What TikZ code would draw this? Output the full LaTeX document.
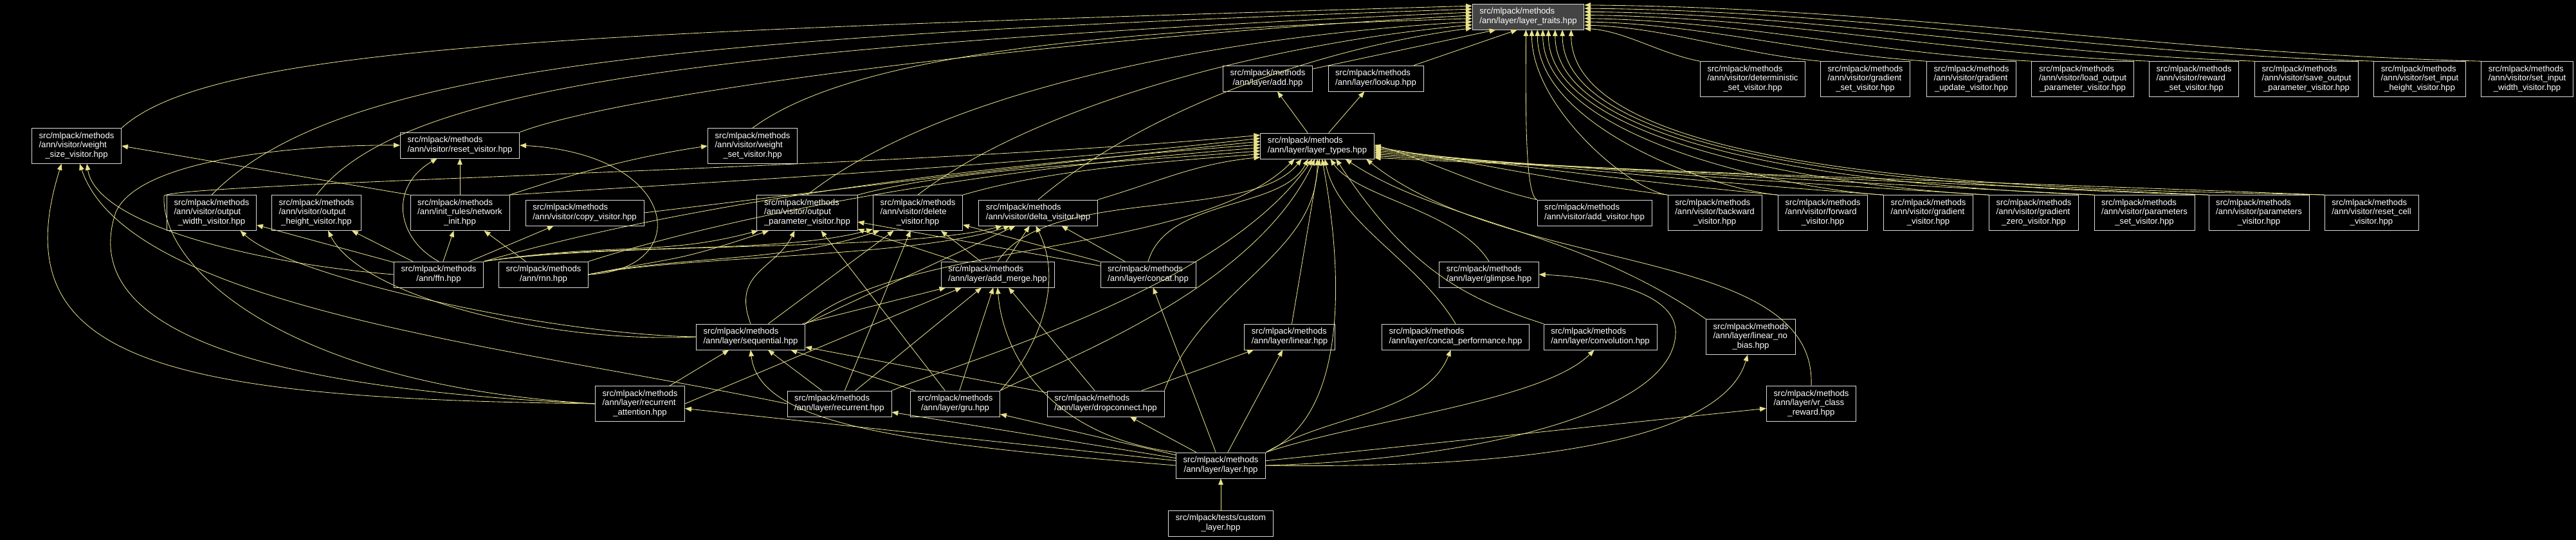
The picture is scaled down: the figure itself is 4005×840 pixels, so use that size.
\documentclass[tikz,border=0pt]{standalone}
\usepackage{fontspec}
\setmainfont{Liberation Sans}
\usetikzlibrary{arrows.meta}
\definecolor{ckhaki}{HTML}{E8E28A}
\definecolor{cgrey}{HTML}{444444}
\definecolor{cframe}{HTML}{DADADA}
\newcommand{\mth}{src/mlpack/methods}
\newcommand{\twol}[2]{\begin{tabular}{@{}l@{}}#1\\\multicolumn{1}{@{}c@{}}{#2}\end{tabular}}
\newcommand{\threel}[3]{\begin{tabular}{@{}l@{}}#1\\#2\\\multicolumn{1}{@{}c@{}}{#3}\end{tabular}}
\tikzset{
  every picture/.style={font=\fontsize{9.35}{10.6}\selectfont, line width=0.6pt},
  box/.style={draw=cframe, fill=black, text=white, inner xsep=8pt, inner ysep=3.6pt},
  boxg/.style={box, fill=cgrey},
  arrow/.style={-{Triangle[length=7pt, width=5.5pt]}, draw=ckhaki},
}
\begin{document}
\begin{tikzpicture}[x=0.25mm, y=0.25mm]
  \path[use as bounding box, fill=black] (0,0) rectangle (4005,-840);
  % the headers
  \node[boxg] (traits) at (2376,-26) {\twol{\mth}{/ann/layer/layer\_traits.hpp}};
  \node[box] (addh) at (1971,-122) {\twol{\mth}{/ann/layer/add.hpp}};
  \node[box] (lookup) at (2139,-122) {\twol{\mth}{/ann/layer/lookup.hpp}};
  \node[box] (types) at (2048,-227) {\twol{\mth}{/ann/layer/layer\_types.hpp}};
  \node[box] (wsize) at (119,-227) {\threel{\mth}{/ann/visitor/weight}{\_size\_visitor.hpp}};
  \node[box] (resetv) at (715,-226) {\twol{\mth}{/ann/visitor/reset\_visitor.hpp}};
  \node[box] (wset) at (1170,-227) {\threel{\mth}{/ann/visitor/weight}{\_set\_visitor.hpp}};
  \node[box] (owidth) at (329,-331) {\threel{\mth}{/ann/visitor/output}{\_width\_visitor.hpp}};
  \node[box] (oheight) at (492,-331) {\threel{\mth}{/ann/visitor/output}{\_height\_visitor.hpp}};
  \node[box] (netinit) at (715,-331) {\threel{\mth}{/ann/init\_rules/network}{\_init.hpp}};
  \node[box] (copyv) at (909,-331) {\twol{\mth}{/ann/visitor/copy\_visitor.hpp}};
  \node[box] (oparam) at (1255,-331) {\threel{\mth}{/ann/visitor/output}{\_parameter\_visitor.hpp}};
  \node[box] (deletev) at (1427,-331) {\threel{\mth}{/ann/visitor/delete}{\_visitor.hpp}};
  \node[box] (deltav) at (1614,-331) {\twol{\mth}{/ann/visitor/delta\_visitor.hpp}};
  \node[box] (addv) at (2479,-331) {\twol{\mth}{/ann/visitor/add\_visitor.hpp}};
  \node[box] (ffn) at (682,-427) {\twol{\mth}{/ann/ffn.hpp}};
  \node[box] (rnn) at (845,-427) {\twol{\mth}{/ann/rnn.hpp}};
  \node[box] (addmerge) at (1551,-427) {\twol{\mth}{/ann/layer/add\_merge.hpp}};
  \node[box] (concat) at (1785,-427) {\twol{\mth}{/ann/layer/concat.hpp}};
  \node[box] (glimpse) at (2315,-427) {\twol{\mth}{/ann/layer/glimpse.hpp}};
  \node[box] (seq) at (1167,-524) {\twol{\mth}{/ann/layer/sequential.hpp}};
  \node[box] (linear) at (2005,-524) {\twol{\mth}{/ann/layer/linear.hpp}};
  \node[box] (concatp) at (2263,-524) {\twol{\mth}{/ann/layer/concat\_performance.hpp}};
  \node[box] (conv) at (2488,-524) {\twol{\mth}{/ann/layer/convolution.hpp}};
  \node[box] (linnb) at (2722,-524) {\threel{\mth}{/ann/layer/linear\_no}{\_bias.hpp}};
  \node[box] (recatt) at (995,-628) {\threel{\mth}{/ann/layer/recurrent}{\_attention.hpp}};
  \node[box] (recur) at (1305,-628) {\twol{\mth}{/ann/layer/recurrent.hpp}};
  \node[box] (gru) at (1485,-628) {\twol{\mth}{/ann/layer/gru.hpp}};
  \node[box] (dropc) at (1719,-628) {\twol{\mth}{/ann/layer/dropconnect.hpp}};
  \node[box] (vrcr) at (2816,-628) {\threel{\mth}{/ann/layer/vr\_class}{\_reward.hpp}};
  \node[box] (layer) at (1898,-724) {\twol{\mth}{/ann/layer/layer.hpp}};
  \node[box] (custom) at (1898,-814) {\twol{src/mlpack/tests/custom}{\_layer.hpp}};
  \foreach \x/\n/\vname/\vtail in {2725/det/deterministic/set, 2900/gset/gradient/set, 3065/gupd/gradient/update,
      3238/lout/load\_output/parameter, 3411/rset/reward/set, 3586/sout/save\_output/parameter,
      3762/sih/set\_input/height, 3929/siw/set\_input/width}
    \node[box] (\n) at (\x,-123) {\threel{\mth}{/ann/visitor/\vname}{\_\vtail\_visitor.hpp}};
  \foreach \x/\n/\vname/\vtail in {2666/bwd/backward/{}, 2834/fwd/forward/{}, 2998/grad/gradient/{},
      3162/gzero/gradient/zero\_, 3334/pset/parameters/set\_, 3512/par/parameters/{}, 3687/rcell/reset\_cell/{}}
    \node[box] (\n) at (\x,-331) {\threel{\mth}{/ann/visitor/\vname}{\_\vtail visitor.hpp}};

  % into layer_traits
  \draw[arrow] (wsize.north east) .. controls (330,-70) and (900,-50) .. ([yshift=12pt]traits.west);
  \draw[arrow] (owidth.north) .. controls (520,-110) and (1000,-58) .. ([yshift=8.5pt]traits.west);
  \draw[arrow] (oheight.north) .. controls (620,-140) and (1050,-75) .. ([yshift=5pt]traits.west);
  \draw[arrow] (resetv.north east) .. controls (980,-140) and (1700,-55) .. ([yshift=1.5pt]traits.west);
  \draw[arrow] (wset.north) .. controls (1330,-80) and (1750,-45) .. ([yshift=-2pt]traits.west);
  \draw[arrow] (oparam.north) .. controls (1450,-150) and (1850,-60) .. ([yshift=-5.5pt]traits.west);
  \draw[arrow] (deletev.north) .. controls (1600,-170) and (1950,-70) .. ([yshift=-9pt]traits.west);
  \draw[arrow] (deltav.north) .. controls (1780,-170) and (2050,-75) .. ([yshift=-12.5pt]traits.west);
  \draw[arrow] (addh) -- (traits.-158);
  \draw[arrow] (lookup) -- (traits.-130);
  \foreach \n/\s/\c in {det/-13/63, gset/-9.3/130, gupd/-5.6/185, lout/-1.9/245, rset/1.8/310, sout/5.5/365, sih/9.2/430, siw/12.9/490}
    \draw[arrow] (\n.north west) .. controls +(-\c,12) and +(\c,-4) .. ([yshift=\s pt]traits.east);
  \foreach \n/\a/\c/\d in {addv/-100/20/100, bwd/-75/60/120, fwd/-55/100/150, grad/-42/140/170,
      gzero/-33/180/190, pset/-26/220/210, par/-21/260/230, rcell/-17/300/250}
    \draw[arrow] (\n.north west) .. controls +(-\c,8) and +(0,-\d) .. (traits.\a);

  % into layer_types
  \draw[arrow] (types) -- (addh);
  \draw[arrow] (types) -- (lookup);
  \foreach \n/\s/\c in {addv/1/90, bwd/-1/160, fwd/-3/220, grad/-5/280, gzero/-7/335, pset/-9/390, par/-11/450, rcell/-13/520}
    \draw[arrow] (\n.north west) .. controls +(-\c,20) and +(\c,-25) .. ([yshift=\s pt]types.east);
  \draw[arrow] (recatt.west) .. controls (450,-600) and (250,-420) .. (255,-305) .. controls (258,-285) and (1400,-262) .. ([yshift=12pt]types.west);
  \draw[arrow] (netinit.north east) .. controls +(400,25) and +(-350,-40) .. ([yshift=8.5pt]types.west);
  \draw[arrow] (copyv.east) .. controls +(250,30) and +(-300,-30) .. ([yshift=5pt]types.west);
  \draw[arrow] (ffn.north east) .. controls +(350,100) and +(-400,-30) .. ([yshift=1.5pt]types.west);
  \draw[arrow] (rnn.north east) .. controls +(250,80) and +(-400,-30) .. ([yshift=-2pt]types.west);
  \draw[arrow] (oparam.north east) .. controls +(150,40) and +(-250,-20) .. ([yshift=-5.5pt]types.west);
  \draw[arrow] (deletev.north east) .. controls +(120,35) and +(-200,-15) .. ([yshift=-9pt]types.west);
  \draw[arrow] (deltav.north east) .. controls +(100,30) and +(-100,-10) .. ([yshift=-12.5pt]types.west);
  \draw[arrow] (seq.north east) .. controls +(150,130) and +(-150,-150) .. (types.-150);
  \draw[arrow] (addmerge.north) .. controls +(80,120) and +(-80,-100) .. (types.-140);
  \draw[arrow] (concat.north) .. controls +(30,100) and +(-40,-80) .. (types.-125);
  \draw[arrow] (recur.north east) .. controls (1500,-560) and (1900,-450) .. (types.-110);
  \draw[arrow] (gru.north east) .. controls (1650,-560) and (1950,-450) .. (types.-100);
  \draw[arrow] (dropc.north east) .. controls +(60,160) and +(0,-150) .. (types.-90);
  \draw[arrow] (linear) -- (types.-80);
  \draw[arrow] (layer.north east) .. controls (2110,-640) and (2080,-380) .. (types.-70);
  \draw[arrow] (concatp.north) .. controls +(-60,100) and +(20,-100) .. (types.-60);
  \draw[arrow] (glimpse.north) .. controls +(-50,80) and +(40,-60) .. (types.-45);
  \draw[arrow] (conv.north west) .. controls (2280,-465) and (2190,-420) .. (types.-35);
  \draw[arrow] (linnb.north west) .. controls +(-200,140) and +(150,-100) .. (types.-25);
  \draw[arrow] (vrcr.north) .. controls (2825,-380) and (2350,-430) .. (types.-15);

  % visitors on the left
  \draw[arrow] (recatt.west) .. controls (250,-620) and (0,-560) .. (wsize.-130);
  \draw[arrow] (recatt.west) .. controls (300,-600) and (130,-480) .. (180,-330) .. controls (220,-240) and (500,-225) .. (resetv.west);
  \draw[arrow] (recur.west) .. controls (800,-540) and (200,-480) .. (wsize.-80);
  \draw[arrow] (ffn.west) .. controls (400,-410) and (150,-350) .. (wsize.-60);
  \draw[arrow] (ffn) -- (owidth);
  \draw[arrow] (ffn) -- (oheight);
  \draw[arrow] (ffn) -- (netinit);
  \draw[arrow] (ffn) -- (copyv);
  \draw[arrow] (ffn.north) .. controls (615,-370) and (605,-290) .. (resetv.-150);
  \draw[arrow] (rnn) -- (netinit);
  \draw[arrow] (rnn.east) .. controls (1080,-420) and (1060,-240) .. (resetv.east);
  \draw[arrow] (netinit) -- (resetv);
  \draw[arrow] (netinit.north west) -- (wsize.east);
  \draw[arrow] (netinit.north east) .. controls +(120,40) and +(-100,-15) .. (wset.west);
  \draw[arrow] (seq.west) .. controls (850,-520) and (450,-430) .. (owidth.-32);
  \draw[arrow] (seq.west) .. controls (850,-535) and (560,-460) .. (oheight.-57);

  % output parameter, delete and delta visitors
  \foreach \n in {oparam, deletev, deltav} {
    \draw[arrow] (ffn.north east) .. controls +(200,30) and +(-150,-40) .. (\n.-160);
    \draw[arrow] (rnn.east) .. controls +(150,30) and +(-150,-50) .. (\n.-155);
    \draw[arrow] (addmerge) -- (\n);
    \draw[arrow] (concat) -- (\n);
  }
  \draw[arrow] (seq.north) .. controls +(-30,80) and +(-30,-60) .. (oparam.-125);
  \draw[arrow] (seq) -- (deletev);
  \draw[arrow] (seq.north east) -- (deltav.-150);
  \draw[arrow] (recur) -- (deletev);
  \draw[arrow] (gru) -- (oparam);
  \draw[arrow] (gru.north east) .. controls (1600,-560) and (1660,-450) .. (deltav.-100);

  % layers
  \foreach \n in {recatt, recur, gru, dropc} {
    \draw[arrow] (\n) -- (seq);
  }
  \draw[arrow] (recatt.east) -- (addmerge.-160);
  \foreach \n in {seq, recur, gru, dropc} {
    \draw[arrow] (\n) -- (addmerge);
  }
  \draw[arrow] (dropc) -- (linear);
  \draw[arrow] (custom) -- (layer);
  \foreach \n in {recatt, recur, gru, dropc, concat, linear, vrcr} {
    \draw[arrow] (layer) -- (\n);
  }
  \draw[arrow] (layer.west) .. controls (1400,-690) and (1180,-660) .. (seq.south);
  \draw[arrow] (layer.north west) .. controls (1640,-680) and (1560,-560) .. (addmerge.south);
  \draw[arrow] (layer.north east) .. controls +(100,60) and +(-40,-100) .. (concatp.-110);
  \draw[arrow] (layer.north east) .. controls +(150,50) and +(-80,-80) .. (conv.-115);
  \draw[arrow] (layer.east) .. controls (2300,-715) and (2600,-640) .. (2605,-520) .. controls (2610,-450) and (2470,-430) .. (glimpse.east);
  \draw[arrow] (layer.east) .. controls (2400,-730) and (2680,-680) .. (linnb.-100);
\end{tikzpicture}
\end{document}
